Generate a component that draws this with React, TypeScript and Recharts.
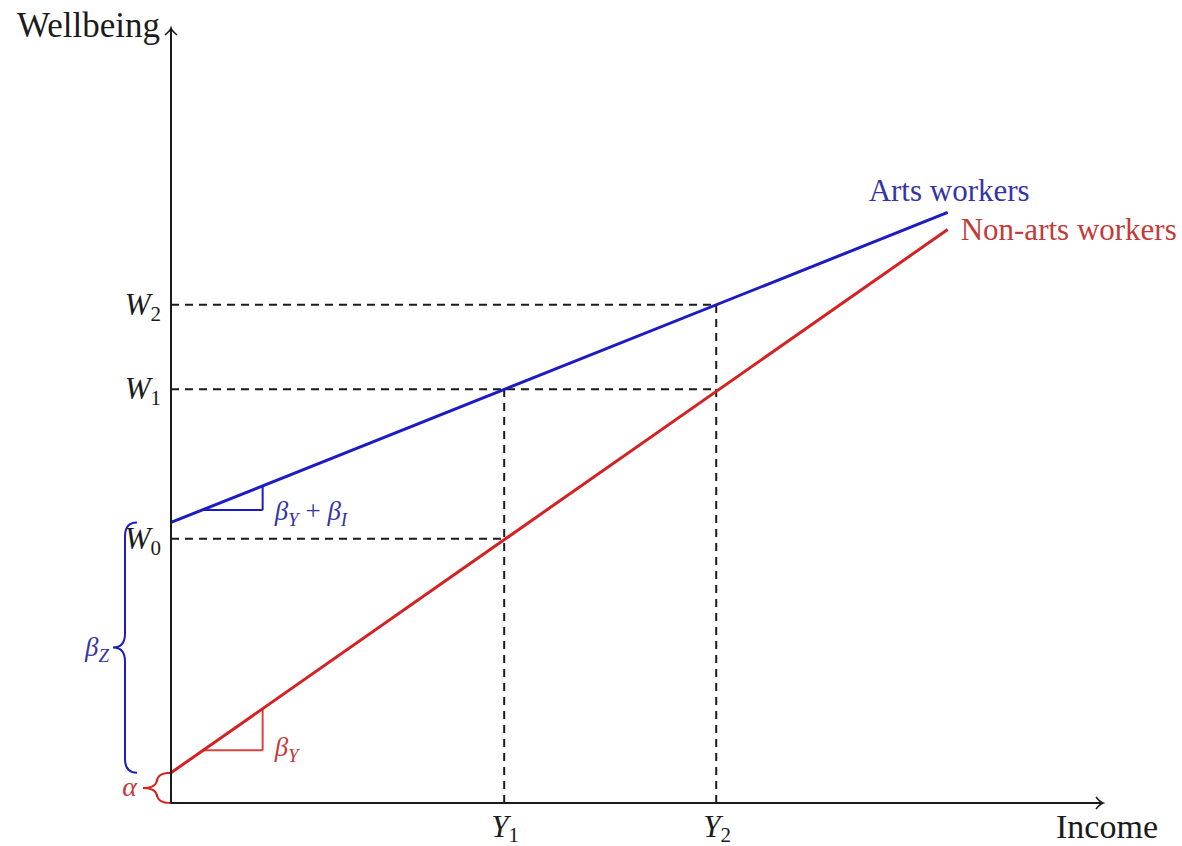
import {
  LineChart,
  Line,
  XAxis,
  YAxis,
  ReferenceLine,
  ReferenceDot,
} from 'recharts';

// the two wellbeing lines, read at income 0 and 10
const incomeEnds = [0, 10];
const artsWellbeing = [3.62, 7.62];
const nonArtsWellbeing = [0.39, 7.4];

const incomeTicks = [4.29, 7.02];
const incomeTickNames = ['1', '2'];
const wellbeingTicks = [3.41, 5.34, 6.43];
const wellbeingTickNames = ['0', '1', '2'];
// which income tick each horizontal guide runs to
const wellbeingGuideEnd = [0, 1, 1];
// which wellbeing tick each vertical guide runs up to
const incomeGuideTop = [1, 2];

// slope triangles
const slopeStepX = [0.41, 1.18];
const artsStepY = [3.78, 4.09];
const nonArtsStepY = [0.68, 1.22];

const FONT = '"Liberation Serif", "DejaVu Serif", serif';
const BLUE = '#1c1cc4';
const RED = '#d42222';
const BLUE_TEXT = '#3434a6';
const RED_TEXT = '#c23a3a';
const INK = '#1b1b1b';

const data = incomeEnds.map((income, i) => ({
  income,
  arts: artsWellbeing[i],
  nonArts: nonArtsWellbeing[i],
}));

const WTick = (props: any) => {
  const { x, y, payload } = props;
  const i = wellbeingTicks.indexOf(payload.value);
  return (
    <text x={x - 2} y={y + 10} textAnchor="end" fontFamily={FONT} fill={INK}>
      <tspan fontSize={31} fontStyle="italic">W</tspan>
      <tspan fontSize={21} dy={6}>{wellbeingTickNames[i]}</tspan>
    </text>
  );
};

const YTick = (props: any) => {
  const { x, y, payload } = props;
  const i = incomeTicks.indexOf(payload.value);
  return (
    <text x={x - 13} y={y + 26} fontFamily={FONT} fill={INK}>
      <tspan fontSize={31} fontStyle="italic">Y</tspan>
      <tspan fontSize={21} dy={5}>{incomeTickNames[i]}</tspan>
    </text>
  );
};

const bracePath = (xr: number, y1: number, y2: number, d: number, r: number) => {
  const xm = xr - d / 2;
  const xt = xr - d;
  const ym = (y1 + y2) / 2;
  return `M ${xr} ${y1} Q ${xm} ${y1} ${xm} ${y1 + r} L ${xm} ${ym - r} Q ${xm} ${ym} ${xt} ${ym} Q ${xm} ${ym} ${xm} ${ym + r} L ${xm} ${y2 - r} Q ${xm} ${y2} ${xr} ${y2}`;
};

export default function App() {
  return (
    <div style={{ position: 'absolute', left: 0, top: 0, background: '#fff' }}>
      <LineChart
        width={1182}
        height={846}
        data={data}
        margin={{ top: 28, right: 79, left: 0, bottom: 0 }}
      >
        <XAxis
          dataKey="income"
          type="number"
          domain={[0, 12]}
          ticks={incomeTicks}
          tickLine={false}
          height={43}
          axisLine={{ stroke: INK, strokeWidth: 2 }}
          tick={<YTick />}
          interval={0}
        />
        <YAxis
          type="number"
          domain={[0, 10]}
          ticks={wellbeingTicks}
          tickLine={false}
          width={171}
          axisLine={{ stroke: INK, strokeWidth: 2 }}
          tick={<WTick />}
          interval={0}
        />

        {wellbeingTicks.map((w, i) => (
          <ReferenceLine
            key={'h' + i}
            segment={[
              { x: 0, y: w },
              { x: incomeTicks[wellbeingGuideEnd[i]], y: w },
            ]}
            stroke={INK}
            strokeWidth={2}
            strokeDasharray="8 6"
          />
        ))}
        {incomeTicks.map((y, i) => (
          <ReferenceLine
            key={'v' + i}
            segment={[
              { x: y, y: 0 },
              { x: y, y: wellbeingTicks[incomeGuideTop[i]] },
            ]}
            stroke={INK}
            strokeWidth={2}
            strokeDasharray="8 6"
          />
        ))}

        <ReferenceLine
          segment={[
            { x: slopeStepX[0], y: artsStepY[0] },
            { x: slopeStepX[1], y: artsStepY[0] },
          ]}
          stroke={BLUE}
          strokeWidth={2}
        />
        <ReferenceLine
          segment={[
            { x: slopeStepX[1], y: artsStepY[0] },
            { x: slopeStepX[1], y: artsStepY[1] },
          ]}
          stroke={BLUE}
          strokeWidth={2}
        />
        <ReferenceLine
          segment={[
            { x: slopeStepX[0], y: nonArtsStepY[0] },
            { x: slopeStepX[1], y: nonArtsStepY[0] },
          ]}
          stroke={RED}
          strokeWidth={2}
          strokeOpacity={0.85}
        />
        <ReferenceLine
          segment={[
            { x: slopeStepX[1], y: nonArtsStepY[0] },
            { x: slopeStepX[1], y: nonArtsStepY[1] },
          ]}
          stroke={RED}
          strokeWidth={2}
          strokeOpacity={0.85}
        />

        {/* brace for beta_Z between the two intercepts */}
        <ReferenceLine
          segment={[
            { x: 0, y: artsWellbeing[0] },
            { x: 0, y: nonArtsWellbeing[0] },
          ]}
          ifOverflow="visible"
          shape={(p: any) => (
            <g>
              <path
                d={bracePath(p.x1 - 34, p.y1, p.y2, 24, 14)}
                fill="none"
                stroke={BLUE}
                strokeWidth={2}
              />
              <text
                x={p.x1 - 62}
                y={(p.y1 + p.y2) / 2 + 8}
                textAnchor="end"
                fontFamily={FONT}
                fill={BLUE_TEXT}
              >
                <tspan fontSize={27} fontStyle="italic">β</tspan>
                <tspan fontSize={19} fontStyle="italic" dy={6}>Z</tspan>
              </text>
            </g>
          )}
        />
        {/* brace for alpha */}
        <ReferenceLine
          segment={[
            { x: 0, y: nonArtsWellbeing[0] },
            { x: 0, y: 0 },
          ]}
          ifOverflow="visible"
          shape={(p: any) => (
            <g>
              <path
                d={bracePath(p.x1, p.y1, p.y2, 28, 9)}
                fill="none"
                stroke={RED}
                strokeWidth={2}
              />
              <text
                x={p.x1 - 34}
                y={(p.y1 + p.y2) / 2 + 8}
                textAnchor="end"
                fontFamily={FONT}
                fontSize={28}
                fontStyle="italic"
                fill={RED_TEXT}
              >
                α
              </text>
            </g>
          )}
        />

        <Line
          dataKey="nonArts"
          type="linear"
          stroke={RED}
          strokeWidth={3}
          dot={false}
          isAnimationActive={false}
        />
        <Line
          dataKey="arts"
          type="linear"
          stroke={BLUE}
          strokeWidth={3}
          dot={false}
          isAnimationActive={false}
        />

        {/* slope labels */}
        <ReferenceDot
          x={slopeStepX[1]}
          y={artsStepY[0]}
          ifOverflow="visible"
          shape={(p: any) => (
            <text x={p.cx + 12} y={p.cy + 10} fontFamily={FONT} fill={BLUE_TEXT}>
              <tspan fontSize={27} fontStyle="italic">β</tspan>
              <tspan fontSize={19} fontStyle="italic" dy={6}>Y</tspan>
              <tspan fontSize={27} dy={-6}> + </tspan>
              <tspan fontSize={27} fontStyle="italic">β</tspan>
              <tspan fontSize={19} fontStyle="italic" dy={6}>I</tspan>
            </text>
          )}
        />
        <ReferenceDot
          x={slopeStepX[1]}
          y={nonArtsStepY[0]}
          ifOverflow="visible"
          shape={(p: any) => (
            <text x={p.cx + 12} y={p.cy + 6} fontFamily={FONT} fill={RED_TEXT}>
              <tspan fontSize={27} fontStyle="italic">β</tspan>
              <tspan fontSize={19} fontStyle="italic" dy={6}>Y</tspan>
            </text>
          )}
        />

        {/* series labels */}
        <ReferenceDot
          x={incomeEnds[1]}
          y={artsWellbeing[1]}
          ifOverflow="visible"
          shape={(p: any) => (
            <text
              x={p.cx - 79}
              y={p.cy - 11}
              fontFamily={FONT}
              fontSize={31}
              fill={BLUE_TEXT}
            >
              Arts workers
            </text>
          )}
        />
        <ReferenceDot
          x={incomeEnds[1]}
          y={nonArtsWellbeing[1]}
          ifOverflow="visible"
          shape={(p: any) => (
            <text
              x={p.cx + 13}
              y={p.cy + 10}
              fontFamily={FONT}
              fontSize={31}
              fill={RED_TEXT}
            >
              Non-arts workers
            </text>
          )}
        />

        {/* axis arrows and titles */}
        <ReferenceDot
          x={12}
          y={0}
          ifOverflow="visible"
          shape={(p: any) => (
            <g>
              <path
                d={`M ${p.cx - 7} ${p.cy - 6} Q ${p.cx - 3} ${p.cy - 1} ${p.cx} ${p.cy} Q ${p.cx - 3} ${p.cy + 1} ${p.cx - 7} ${p.cy + 6}`}
                fill="none"
                stroke={INK}
                strokeWidth={1.6}
              />
              <text
                x={p.cx + 55}
                y={p.cy + 35}
                textAnchor="end"
                fontFamily={FONT}
                fontSize={34}
                fill={INK}
              >
                Income
              </text>
            </g>
          )}
        />
        <ReferenceDot
          x={0}
          y={10}
          ifOverflow="visible"
          shape={(p: any) => (
            <g>
              <path
                d={`M ${p.cx - 6} ${p.cy + 7} Q ${p.cx - 1} ${p.cy + 3} ${p.cx} ${p.cy} Q ${p.cx + 1} ${p.cy + 3} ${p.cx + 6} ${p.cy + 7}`}
                fill="none"
                stroke={INK}
                strokeWidth={1.6}
              />
              <text
                x={p.cx - 11}
                y={p.cy + 9}
                textAnchor="end"
                fontFamily={FONT}
                fontSize={35}
                fill={INK}
              >
                Wellbeing
              </text>
            </g>
          )}
        />
      </LineChart>
    </div>
  );
}
